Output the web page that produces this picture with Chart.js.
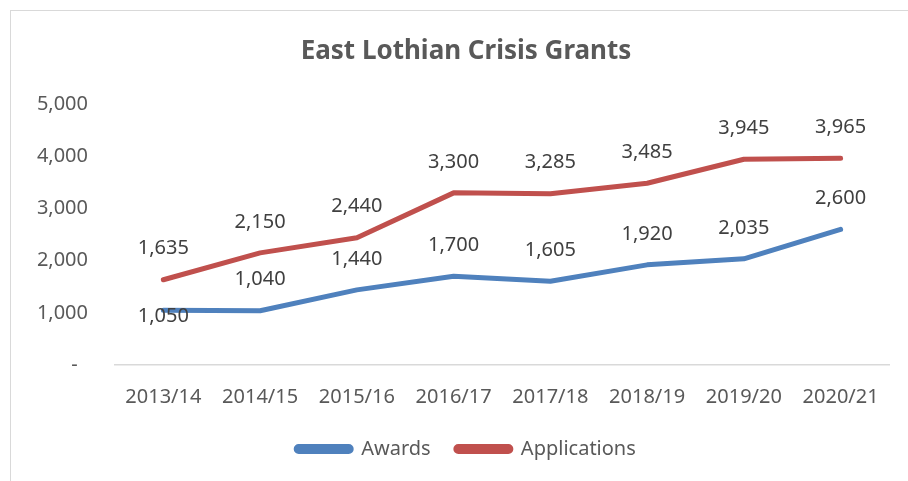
<!DOCTYPE html>
<html>
<head>
<meta charset="utf-8">
<script src="https://cdn.jsdelivr.net/npm/chart.js@4"></script>
<style>
  html, body { margin: 0; padding: 0; background: #fff; overflow: hidden; }
  #frame {
    position: absolute; left: 10px; top: 10px; width: 1000px; height: 600px;
    border-left: 1.5px solid #d9d9d9; border-top: 1.5px solid #d9d9d9;
  }
  #wrap { position: absolute; left: 11px; top: 11px; width: 905px; height: 480px; }
</style>
</head>
<body>
<div id="frame"></div>
<div id="wrap"><canvas id="chart"></canvas></div>
<script>
const categories = ['2013/14', '2014/15', '2015/16', '2016/17', '2017/18', '2018/19', '2019/20', '2020/21'];
const awards = [1050, 1040, 1440, 1700, 1605, 1920, 2035, 2600];
const applications = [1635, 2150, 2440, 3300, 3285, 3485, 3945, 3965];
const yTicks = [0, 1000, 2000, 3000, 4000, 5000];

const FONT = '"Noto Sans", "Open Sans", sans-serif';

// value labels above each point (first Awards label sits on the line)
const valueLabels = {
    id: 'valueLabels',
    afterDatasetsDraw(chart) {
        const ctx = chart.ctx;
        ctx.save();
        ctx.font = '20px ' + FONT;
        ctx.fillStyle = '#404040';
        ctx.textAlign = 'center';
        ctx.textBaseline = 'middle';
        chart.data.datasets.forEach((ds, di) => {
            const meta = chart.getDatasetMeta(di);
            meta.data.forEach((pt, i) => {
                let dy = -31;
                if (di === 0 && i === 0) dy = 6;
                ctx.fillText(ds.data[i].toLocaleString('en-US'), pt.x, pt.y + dy);
            });
        });
        ctx.restore();
    }
};

// title and legend sit a little right of centre, like the original
const nudgeBoxes = {
    id: 'nudgeBoxes',
    afterLayout(chart) {
        [chart.titleBlock, chart.legend].forEach(box => {
            if (!box) return;
            box.left += 16;
            box.right += 16;
        });
    }
};

const ctx = document.getElementById('chart').getContext('2d');
new Chart(ctx, {
    type: 'line',
    data: {
        labels: categories,
        datasets: [
            {
                label: 'Awards',
                data: awards,
                borderColor: '#4f81bd',
                backgroundColor: '#4f81bd',
                borderWidth: 5,
                borderCapStyle: 'round',
                borderJoinStyle: 'round',
                pointRadius: 0,
                tension: 0
            },
            {
                label: 'Applications',
                data: applications,
                borderColor: '#c0504d',
                backgroundColor: '#c0504d',
                borderWidth: 5,
                borderCapStyle: 'round',
                borderJoinStyle: 'round',
                pointRadius: 0,
                tension: 0
            }
        ]
    },
    options: {
        responsive: true,
        maintainAspectRatio: false,
        animation: false,
        layout: { padding: { left: 0, right: 27, top: 0, bottom: 22 } },
        plugins: {
            title: {
                display: true,
                text: 'East Lothian Crisis Grants',
                color: '#595959',
                font: { family: FONT, size: 26, weight: 'bold' },
                padding: { top: 25, bottom: 37 }
            },
            legend: {
                position: 'bottom',
                labels: {
                    color: '#595959',
                    font: { family: FONT, size: 20 },
                    boxWidth: 55,
                    boxHeight: 5,
                    useBorderRadius: true,
                    borderRadius: 2.5,
                    padding: 10,
                    generateLabels(chart) {
                        const items = Chart.defaults.plugins.legend.labels.generateLabels(chart);
                        // a bit more room between the two entries
                        items[0].text = items[0].text + ' \u2002';
                        return items;
                    }
                }
            },
            tooltip: { enabled: false }
        },
        scales: {
            x: {
                offset: true,
                grid: { display: false, drawTicks: false },
                border: { display: true, color: '#d9d9d9', width: 1.5 },
                ticks: { color: '#595959', font: { family: FONT, size: 20 }, padding: 20 }
            },
            y: {
                min: 0,
                max: 5000,
                afterFit(scale) { scale.width = 104; },
                afterBuildTicks(scale) { scale.ticks = yTicks.map(v => ({ value: v })); },
                grid: { display: false, drawTicks: false },
                border: { display: false },
                ticks: {
                    color: '#595959',
                    font: { family: FONT, size: 20 },
                    padding: 27,
                    callback: v => v === 0 ? '-  ' : v.toLocaleString('en-US')
                }
            }
        }
    },
    plugins: [valueLabels, nudgeBoxes]
});
</script>
</body>
</html>
